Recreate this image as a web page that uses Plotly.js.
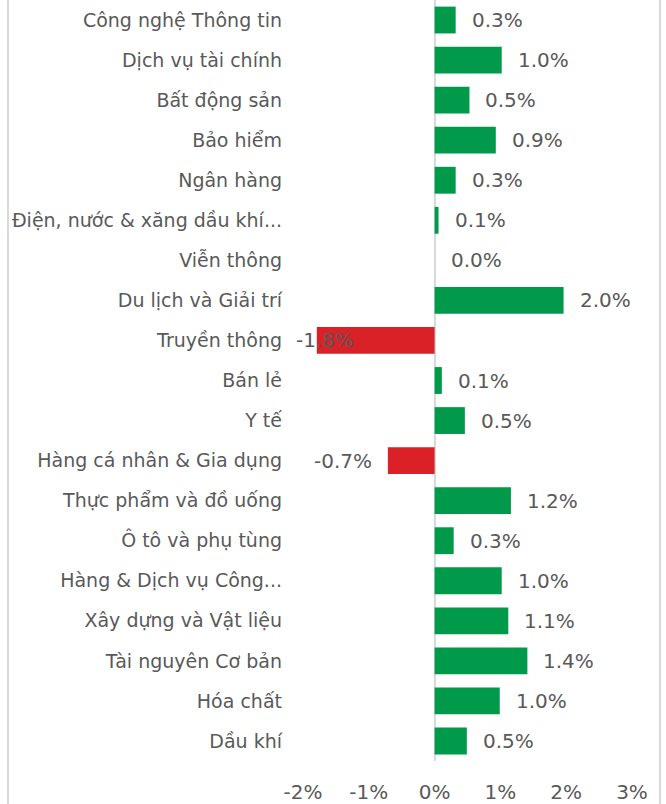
<!DOCTYPE html>
<html>
<head>
<meta charset="utf-8">
<script src="https://cdn.plot.ly/plotly-3.0.1.min.js"></script>
<style>
  html, body { margin: 0; padding: 0; background: #fff; }
  #wrap { position: relative; width: 666px; height: 804px; overflow: hidden; }
  #chart { position: absolute; left: 0; top: 0; width: 666px; height: 804px; }
  .edge { position: absolute; top: 0; width: 2px; height: 804px; background: #d9d9d9; }
</style>
</head>
<body>
<div id="wrap">
  <div id="chart"></div>
  <div class="edge" style="left:7px"></div>
  <div class="edge" style="left:659px"></div>
</div>
<script>
const categories = [
  "Công nghệ Thông tin",
  "Dịch vụ tài chính",
  "Bất động sản",
  "Bảo hiểm",
  "Ngân hàng",
  "Điện, nước & xăng dầu khí...",
  "Viễn thông",
  "Du lịch và Giải trí",
  "Truyền thông",
  "Bán lẻ",
  "Y tế",
  "Hàng cá nhân & Gia dụng",
  "Thực phẩm và đồ uống",
  "Ô tô và phụ tùng",
  "Hàng & Dịch vụ Công...",
  "Xây dựng và Vật liệu",
  "Tài nguyên Cơ bản",
  "Hóa chất",
  "Dầu khí"
];
const values = [0.32, 1.02, 0.53, 0.93, 0.32, 0.06, 0.0, 1.96, -1.79, 0.11, 0.46, -0.71, 1.16, 0.29, 1.02, 1.12, 1.41, 0.99, 0.49];
const xTickVals = [-2, -1, 0, 1, 2, 3];
const xTickText = ["-2%", "-1%", "0%", "1%", "2%", "3%"];

const GREEN = "#009A4A";
const RED = "#DA2128";
const TEXT = "#595959";
const FONT = "DejaVu Sans, sans-serif";
const SIZE = 20;
const CAT_SIZE = 19;
const xRange = [-2, 3];

const trace = {
  type: "bar",
  orientation: "h",
  y: categories,
  x: values,
  marker: { color: values.map(v => v < 0 ? RED : GREEN), line: { width: 0 } },
  hoverinfo: "skip"
};

const annotations = values.map((v, i) => {
  const label = v.toFixed(1) + "%";
  let a = { x: v, y: categories[i], xref: "x", yref: "y", text: label, showarrow: false,
            font: { family: FONT, size: SIZE, color: TEXT }, yanchor: "middle" };
  if (v >= 0) { a.xanchor = "left"; a.xshift = 14; }
  else if (v < -1.5) { a.x = xRange[0]; a.xanchor = "left"; a.xshift = -9; }
  else { a.xanchor = "right"; a.xshift = -14; }
  return a;
});

const layout = {
  width: 666, height: 804,
  margin: { l: 303, r: 34, t: 0, b: 43 },
  paper_bgcolor: "rgba(0,0,0,0)",
  plot_bgcolor: "rgba(0,0,0,0)",
  showlegend: false,
  bargap: 0.33,
  font: { family: FONT, color: TEXT, size: SIZE },
  xaxis: {
    range: xRange, tickvals: xTickVals, ticktext: xTickText,
    showgrid: false, zeroline: true, zerolinecolor: "#d9d9d9", zerolinewidth: 2,
    showline: false, ticks: "", ticklabelstandoff: 17,
    tickfont: { family: FONT, size: SIZE, color: TEXT }, fixedrange: true
  },
  yaxis: {
    autorange: "reversed", type: "category",
    showgrid: false, zeroline: false, showline: false, ticks: "",
    ticklabelstandoff: 20,
    tickfont: { family: FONT, size: CAT_SIZE, color: TEXT }, fixedrange: true
  },
  annotations: annotations
};

Plotly.newPlot("chart", [trace], layout, { displayModeBar: false, staticPlot: true });
</script>
</body>
</html>
